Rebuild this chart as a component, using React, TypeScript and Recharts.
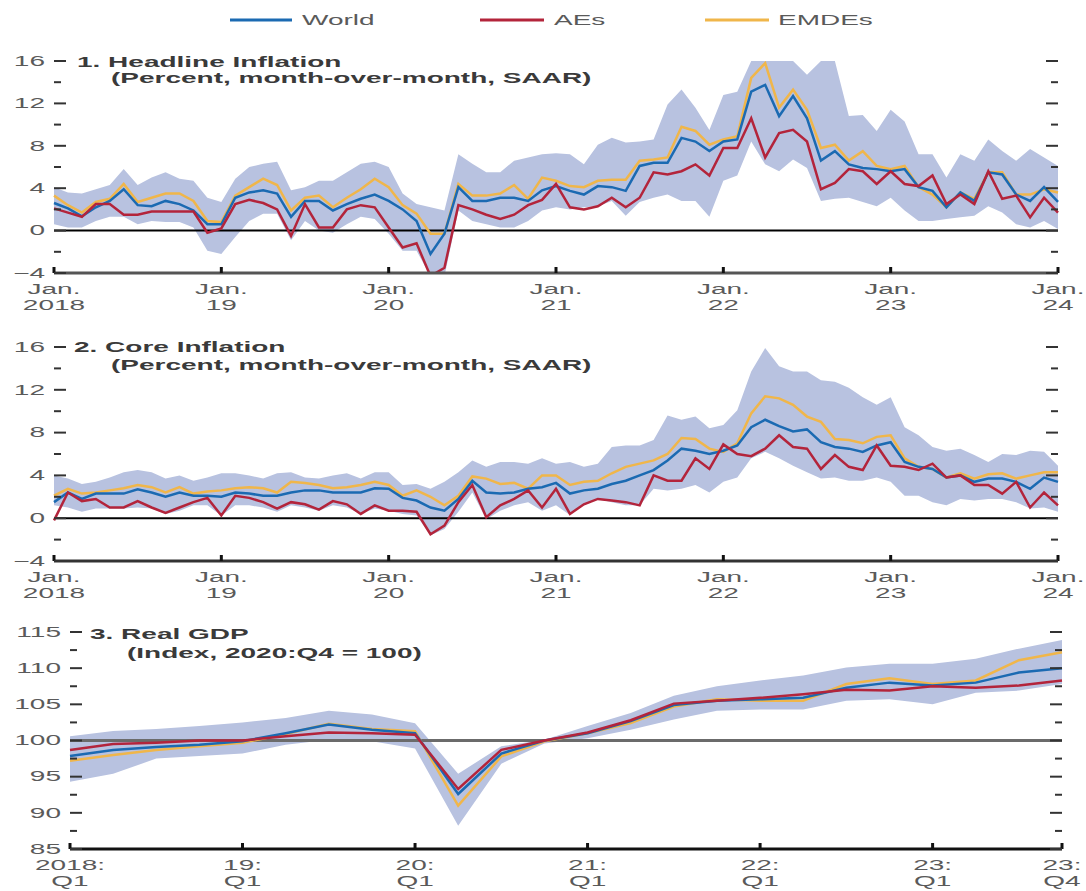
import React from 'react';
import { ComposedChart, Line, Area, XAxis, YAxis, ReferenceLine } from 'recharts';

// ---- data ----
const monthYears = ['2018', '19', '20', '21', '22', '23', '24'];
const quarterTickLabels: [string, string][] = [
  ['2018:', 'Q1'], ['19:', 'Q1'], ['20:', 'Q1'], ['21:', 'Q1'], ['22:', 'Q1'], ['23:', 'Q1'], ['23:', 'Q4'],
];
const quarterTicks = [0, 4, 8, 12, 16, 20, 23];

const headlineWorld = [
  2.6, 2.1, 1.35, 2.2, 2.8, 3.9, 2.4, 2.3, 2.8, 2.5, 1.9, 0.6,
  0.6, 3.1, 3.6, 3.8, 3.5, 1.3, 2.8, 2.8, 1.9, 2.5, 3.0, 3.4,
  2.8, 2.0, 0.9, -2.2, -0.3, 4.1, 2.8, 2.8, 3.1, 3.1, 2.8, 3.8,
  4.2, 3.75, 3.4, 4.2, 4.1, 3.75, 6.1, 6.4, 6.4, 8.75, 8.4, 7.5,
  8.4, 8.6, 13.1, 13.75, 10.8, 12.7, 10.6, 6.6, 7.5, 6.25, 5.9, 5.8,
  5.6, 5.8, 4.1, 3.75, 2.2, 3.6, 2.8, 5.5, 5.3, 3.4, 2.8, 4.1, 2.7,
];
const headlineAEs = [
  2.1, 1.7, 1.3, 2.5, 2.5, 1.5, 1.5, 1.8, 1.8, 1.8, 1.8, -0.2,
  0.2, 2.5, 2.9, 2.6, 2.0, -0.5, 2.5, 0.3, 0.3, 2.0, 2.4, 2.2,
  0.3, -1.6, -1.2, -4.3, -3.5, 2.4, 2.0, 1.5, 1.1, 1.5, 2.4, 2.9,
  4.4, 2.2, 2.0, 2.3, 3.1, 2.2, 3.1, 5.5, 5.3, 5.6, 6.25, 5.2,
  7.8, 7.8, 10.6, 6.9, 9.2, 9.5, 8.4, 3.9, 4.5, 5.8, 5.6, 4.4,
  5.6, 4.4, 4.2, 5.2, 2.5, 3.4, 2.5, 5.6, 3.0, 3.3, 1.25, 3.1, 1.7,
];
const headlineEMDEs = [
  3.3, 2.4, 1.7, 2.7, 3.0, 4.4, 2.7, 3.1, 3.5, 3.5, 2.8, 0.9,
  0.8, 3.3, 4.1, 4.9, 4.3, 1.9, 3.1, 3.3, 2.2, 3.1, 3.9, 4.9,
  4.1, 2.4, 1.6, -0.3, -0.3, 4.4, 3.3, 3.3, 3.5, 4.3, 3.0, 5.0,
  4.7, 4.2, 4.1, 4.7, 4.8, 4.8, 6.6, 6.7, 6.9, 9.8, 9.4, 8.1,
  8.6, 8.9, 14.4, 15.8, 11.6, 13.3, 11.4, 7.8, 8.1, 6.6, 7.5, 6.1,
  5.8, 6.1, 4.1, 3.4, 2.2, 3.6, 3.0, 5.5, 5.5, 3.4, 3.4, 3.9, 3.6,
];
const headlineHi = [
  4.1, 3.6, 3.5, 3.9, 4.3, 5.8, 4.3, 5.0, 5.5, 4.9, 4.7, 3.1,
  2.7, 4.9, 6.0, 6.3, 6.5, 3.8, 4.1, 4.7, 4.7, 5.5, 6.3, 6.5,
  6.0, 3.5, 2.5, 2.2, 1.9, 7.2, 6.3, 5.5, 5.5, 6.6, 6.9, 7.2,
  7.3, 7.2, 6.25, 8.1, 8.75, 8.3, 8.4, 8.6, 11.9, 13.3, 11.6, 9.5,
  12.8, 13.1, 16, 16, 16, 16, 14.7, 16, 16, 10.8, 10.9, 9.4,
  11.4, 10.3, 7.2, 7.2, 5.0, 7.2, 6.6, 8.6, 7.5, 6.6, 7.7, 6.9, 6.1,
];
const headlineLo = [
  0.6, 0.3, 0.3, 0.9, 1.3, 1.3, 0.6, 0.9, 0.8, 0.8, 0.3, -1.9,
  -2.2, -0.6, 0.9, 1.6, 1.6, -0.9, 0.9, 0, -0.2, 0.6, 1.3, 1.1,
  -0.3, -1.9, -1.9, -4.3, -4.3, 1.9, 0.9, 0.6, 0.3, 0.3, 0.9, 1.9,
  2.2, 2.0, 2.2, 2.3, 2.8, 1.4, 2.7, 3.1, 3.4, 2.8, 2.8, 1.3,
  4.7, 5.2, 8.4, 6.25, 5.6, 6.7, 5.9, 2.8, 3.0, 3.1, 2.7, 2.3,
  3.1, 1.9, 0.9, 0.9, 1.1, 1.25, 1.4, 2.3, 1.7, 0.6, 0.3, 0.9, 0.15,
];

const coreWorld = [
  1.5, 2.4, 1.8, 2.3, 2.3, 2.3, 2.7, 2.4, 2.0, 2.4, 2.1, 2.1,
  2.0, 2.4, 2.3, 2.1, 2.1, 2.4, 2.6, 2.6, 2.4, 2.4, 2.4, 2.8,
  2.75, 1.9, 1.65, 1.0, 0.7, 1.8, 3.5, 2.4, 2.3, 2.4, 2.75, 2.9,
  3.3, 2.3, 2.6, 2.75, 3.2, 3.5, 4.0, 4.5, 5.4, 6.5, 6.3, 6.0,
  6.3, 6.8, 8.5, 9.2, 8.6, 8.1, 8.3, 7.1, 6.65, 6.5, 6.2, 6.8,
  7.1, 5.25, 4.8, 4.6, 3.8, 4.0, 3.4, 3.7, 3.7, 3.4, 2.75, 3.8, 3.4,
];
const coreAEs = [
  -0.2, 2.4, 1.6, 1.8, 1.0, 1.0, 1.6, 1.0, 0.5, 1.0, 1.5, 1.9,
  0.25, 2.1, 1.9, 1.5, 0.9, 1.5, 1.3, 0.8, 1.6, 1.3, 0.4, 1.2,
  0.7, 0.7, 0.6, -1.5, -0.7, 1.5, 3.1, 0.1, 1.2, 1.8, 2.6, 1.0,
  2.75, 0.4, 1.3, 1.8, 1.65, 1.5, 1.2, 4.0, 3.5, 3.5, 5.6, 4.6,
  6.9, 6.0, 5.8, 6.5, 7.75, 6.65, 6.5, 4.6, 5.9, 4.8, 4.5, 6.8,
  4.9, 4.8, 4.5, 5.1, 3.8, 4.0, 3.1, 3.1, 2.3, 3.4, 1.0, 2.4, 1.2,
];
const coreEMDEs = [
  2.1, 2.75, 2.3, 2.4, 2.6, 2.8, 3.1, 2.9, 2.4, 2.9, 2.3, 2.5,
  2.6, 2.8, 2.9, 2.8, 2.4, 3.4, 3.3, 3.1, 2.8, 2.9, 3.1, 3.4,
  3.1, 2.1, 2.6, 2.0, 1.2, 2.1, 3.9, 3.7, 3.2, 3.3, 2.75, 4.0,
  4.0, 3.1, 3.4, 3.5, 4.2, 4.8, 5.1, 5.4, 6.0, 7.5, 7.4, 6.5,
  6.2, 7.0, 9.8, 11.4, 11.2, 10.6, 9.5, 9.0, 7.4, 7.3, 7.0, 7.6,
  7.75, 5.6, 4.8, 4.6, 3.8, 4.2, 3.7, 4.1, 4.2, 3.7, 4.0, 4.3, 4.3,
];
const coreHi = [
  4.0, 3.7, 3.2, 3.4, 3.8, 4.3, 4.5, 4.3, 3.7, 4.0, 3.5, 3.8,
  4.2, 4.2, 4.0, 3.7, 4.2, 4.3, 3.8, 3.7, 4.0, 4.2, 3.7, 4.3,
  4.3, 3.1, 3.2, 2.75, 3.4, 4.3, 5.4, 4.8, 5.25, 5.25, 5.1, 5.6,
  5.1, 5.25, 4.8, 5.1, 6.65, 6.8, 6.8, 7.3, 9.6, 9.2, 9.5, 8.4,
  8.7, 10.1, 13.7, 15.9, 14.2, 13.7, 13.7, 12.9, 12.75, 12.2, 11.3, 10.6,
  11.3, 8.5, 7.75, 6.65, 6.3, 6.5, 5.9, 5.25, 6.0, 5.9, 6.3, 6.2, 4.9,
];
const coreLo = [
  1.2, 1.0, 0.6, 0.9, 0.9, 0.9, 1.0, 0.9, 0.4, 0.7, 1.2, 1.2,
  0.25, 1.2, 1.2, 1.0, 0.6, 1.2, 1.0, 0.7, 1.2, 1.0, 0.4, 0.9,
  0.7, 0.4, 0.25, -1.6, -1.0, 0.6, 2.4, -0.1, 0.7, 1.2, 1.5, 0.7,
  1.2, 0.3, 1.3, 1.8, 1.5, 1.2, 1.2, 2.75, 2.6, 2.75, 3.1, 2.4,
  3.4, 3.8, 5.6, 6.2, 5.6, 4.9, 4.3, 3.7, 3.8, 3.5, 3.5, 3.8,
  3.4, 2.1, 2.1, 1.5, 1.2, 1.8, 1.65, 1.8, 1.8, 1.5, 0.9, 1.0, 0.6,
];

const gdpWorld = [97.85, 98.7, 99.1, 99.4, 99.9, 101.0, 102.2, 101.5, 101.0, 92.6, 98.2, 100, 101.0, 102.7, 104.9, 105.5, 105.7, 105.9, 107.3, 108.0, 107.6, 108.0, 109.4, 110.0];
const gdpAEs = [98.7, 99.5, 99.7, 100, 100, 100.6, 101.1, 101.0, 100.8, 93.3, 98.7, 100, 101.1, 102.8, 105.1, 105.5, 105.9, 106.4, 107.0, 106.9, 107.5, 107.3, 107.6, 108.3];
const gdpEMDEs = [97.2, 98.0, 98.7, 99.2, 99.7, 100.9, 102.3, 101.6, 101.3, 91.0, 97.8, 99.9, 101.0, 102.4, 104.7, 105.7, 105.5, 105.5, 107.8, 108.6, 107.8, 108.3, 111.1, 112.2];
const gdpHi = [100.6, 101.3, 101.6, 102.0, 102.5, 103.1, 104.1, 103.6, 102.4, 95.4, 99.2, 100.1, 102.0, 103.8, 106.2, 107.5, 108.3, 109.0, 110.1, 110.6, 110.6, 111.3, 112.7, 113.9];
const gdpLo = [94.3, 95.4, 97.5, 97.85, 98.2, 99.4, 100.1, 99.9, 98.9, 88.2, 96.8, 99.6, 100.3, 101.5, 102.9, 104.1, 104.3, 104.3, 105.5, 105.7, 105.0, 106.6, 106.9, 107.8];

// ---- styling ----
const SX = 2.0; // the reference is stretched horizontally
const FONT = '"Liberation Sans", Arial, Helvetica, sans-serif';
const BAND = '#b8c2e0';
const C_WORLD = '#1b6ab2';
const C_AES = '#b3243b';
const C_EMDES = '#f0b64a';
const YW = 40; // y axis width (space left of plot)

const build = (w: number[], a: number[], e: number[], lo: number[], hi: number[]) =>
  w.map((v, i) => ({ i, world: v, aes: a[i], emdes: e[i], band: [lo[i], hi[i]] }));

const headlineData = build(headlineWorld, headlineAEs, headlineEMDEs, headlineLo, headlineHi);
const coreData = build(coreWorld, coreAEs, coreEMDEs, coreLo, coreHi);
const gdpData = build(gdpWorld, gdpAEs, gdpEMDEs, gdpLo, gdpHi);

function WideText(props: { x: number; y: number; anchor?: string; bold?: boolean; fill?: string; children: React.ReactNode }) {
  const { x, y, anchor = 'start', bold, fill = '#5a5a5a', children } = props;
  return (
    <text
      transform={`translate(${x},${y}) scale(${SX},1)`}
      textAnchor={anchor as any}
      dominantBaseline="central"
      fontFamily={FONT}
      fontSize={14}
      fontWeight={bold ? 'bold' : 'normal'}
      fill={fill}
    >
      {children}
    </text>
  );
}

const fmt = (v: number) => (v < 0 ? '\u2212' + Math.abs(v) : String(v));

interface PanelProps {
  data: any[];
  top: number;
  height: number;
  left: number;
  right: number;
  plotTop: number;
  plotBottom: number;
  yDomain: [number, number];
  yTicks: number[];
  yMajor: number;
  xDomain: [number, number];
  xTicks: number[];
  xLabels: [string, string][];
  refY: number;
  refColor: string;
  refWidth: number;
  axisColor: string;
}

function Panel(p: PanelProps) {
  const W = 1086;
  const xAxisH = p.height - p.plotBottom - 2;
  const yTick = (props: any) => {
    const { y, payload } = props;
    const v = payload.value as number;
    const major = Math.abs(v % p.yMajor) < 1e-9;
    const len = major ? 12 : 7;
    return (
      <g>
        <line x1={p.left} x2={p.left + len} y1={y} y2={y} stroke="#333" strokeWidth={2} />
        <line x1={p.right - len} x2={p.right} y1={y} y2={y} stroke="#333" strokeWidth={2} />
        {major && (
          <WideText x={p.left - 9} y={y} anchor="end">
            {fmt(v)}
          </WideText>
        )}
      </g>
    );
  };
  const xTick = (props: any) => {
    const { x, payload } = props;
    const idx = p.xTicks.indexOf(payload.value);
    const lab = p.xLabels[idx] || ['', ''];
    return (
      <g>
        <line x1={x} x2={x} y1={p.plotBottom} y2={p.plotBottom - 6} stroke="#111" strokeWidth={3} />
        <WideText x={x} y={p.plotBottom + 16} anchor="middle">{lab[0]}</WideText>
        <WideText x={x} y={p.plotBottom + 32} anchor="middle">{lab[1]}</WideText>
      </g>
    );
  };
  return (
    <div style={{ position: 'absolute', left: 0, top: p.top, width: W, height: p.height }}>
      <ComposedChart
        width={W}
        height={p.height}
        data={p.data}
        margin={{ top: p.plotTop, right: W - p.right, bottom: 2, left: p.left - YW }}
      >
        <XAxis
          type="number"
          dataKey="i"
          domain={p.xDomain}
          ticks={p.xTicks}
          interval={0}
          height={xAxisH}
          tickLine={false}
          axisLine={{ stroke: p.axisColor, strokeWidth: 3 }}
          tick={xTick}
        />
        <YAxis
          width={YW}
          type="number"
          domain={p.yDomain}
          ticks={p.yTicks}
          interval={0}
          allowDataOverflow
          axisLine={false}
          tickLine={false}
          tick={yTick}
        />
        <Area
          type="linear"
          dataKey="band"
          stroke="none"
          fill={BAND}
          fillOpacity={1}
          isAnimationActive={false}
          activeDot={false}
        />
        <ReferenceLine y={p.refY} stroke={p.refColor} strokeWidth={p.refWidth} />
        <Line type="linear" dataKey="emdes" stroke={C_EMDES} strokeWidth={2.5} dot={false} isAnimationActive={false} />
        <Line type="linear" dataKey="world" stroke={C_WORLD} strokeWidth={2.5} dot={false} isAnimationActive={false} />
        <Line type="linear" dataKey="aes" stroke={C_AES} strokeWidth={2.5} dot={false} isAnimationActive={false} />
      </ComposedChart>
    </div>
  );
}

const inflTicks = [-4, -2, 0, 2, 4, 6, 8, 10, 12, 14, 16];
const gdpTicks = [85, 87.5, 90, 92.5, 95, 97.5, 100, 102.5, 105, 107.5, 110, 112.5, 115];
const monthTicks = [0, 12, 24, 36, 48, 60, 72];
const monthLabels: [string, string][] = monthYears.map((y) => ['Jan.', y]);

export default function App() {
  return (
    <div style={{ position: 'absolute', left: 0, top: 0, width: 1086, height: 891, background: '#fff', overflow: 'hidden' }}>
      <Panel
        data={headlineData}
        top={40}
        height={280}
        left={54}
        right={1058}
        plotTop={21}
        plotBottom={233}
        yDomain={[-4, 16]}
        yTicks={inflTicks}
        yMajor={4}
        xDomain={[0, 72]}
        xTicks={monthTicks}
        xLabels={monthLabels}
        refY={0}
        refColor="#000"
        refWidth={2}
        axisColor="#555"
      />
      <Panel
        data={coreData}
        top={326}
        height={280}
        left={54}
        right={1058}
        plotTop={21}
        plotBottom={235}
        yDomain={[-4, 16]}
        yTicks={inflTicks}
        yMajor={4}
        xDomain={[0, 72]}
        xTicks={monthTicks}
        xLabels={monthLabels}
        refY={0}
        refColor="#000"
        refWidth={2}
        axisColor="#333"
      />
      <Panel
        data={gdpData}
        top={610}
        height={281}
        left={70}
        right={1062}
        plotTop={22}
        plotBottom={239}
        yDomain={[85, 115]}
        yTicks={gdpTicks}
        yMajor={5}
        xDomain={[0, 23]}
        xTicks={quarterTicks}
        xLabels={quarterTickLabels}
        refY={100}
        refColor="#6b6b6b"
        refWidth={3}
        axisColor="#111"
      />
      <svg width={1086} height={891} style={{ position: 'absolute', left: 0, top: 0, pointerEvents: 'none' }}>
        {/* legend */}
        <line x1={230} x2={292} y1={20} y2={20} stroke={C_WORLD} strokeWidth={3} />
        <WideText x={302} y={20}>World</WideText>
        <line x1={480} x2={544} y1={20} y2={20} stroke={C_AES} strokeWidth={3} />
        <WideText x={554} y={20}>AEs</WideText>
        <line x1={705} x2={769} y1={20} y2={20} stroke={C_EMDES} strokeWidth={3} />
        <WideText x={778} y={20}>EMDEs</WideText>
        {/* panel titles */}
        <WideText x={77} y={62} bold fill="#3a3a3a">1. Headline Inflation</WideText>
        <WideText x={111} y={78} bold fill="#3a3a3a">(Percent, month-over-month, SAAR)</WideText>
        <WideText x={74} y={347} bold fill="#3a3a3a">2. Core Inflation</WideText>
        <WideText x={111} y={365} bold fill="#3a3a3a">(Percent, month-over-month, SAAR)</WideText>
        <WideText x={90} y={634} bold fill="#3a3a3a">3. Real GDP</WideText>
        <WideText x={127} y={653} bold fill="#3a3a3a">(Index, 2020:Q4 = 100)</WideText>
      </svg>
    </div>
  );
}
